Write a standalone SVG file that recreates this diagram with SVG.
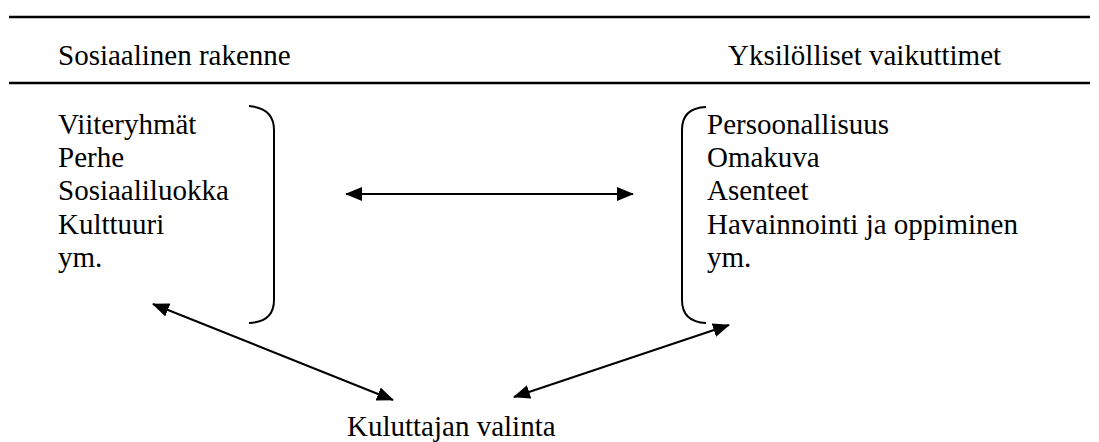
<svg xmlns="http://www.w3.org/2000/svg" width="1099" height="442" viewBox="0 0 1099 442">
<style>
text{font-family:"Liberation Serif","Times New Roman",serif;font-size:29px;fill:#000}
.rule{stroke:#000;stroke-width:2.5}
.br{fill:none;stroke:#000;stroke-width:2}
.ar{fill:none;stroke:#000;stroke-width:2;marker-start:url(#ah);marker-end:url(#ah)}
</style>
<defs>
<marker id="ah" markerUnits="userSpaceOnUse" markerWidth="17" markerHeight="15" refX="16" refY="7" orient="auto-start-reverse">
<path d="M0,0 L17,7 L0,14 z" fill="#000"/>
</marker>
</defs>
<rect width="1099" height="442" fill="#fff"/>
<g id="header">
<line class="rule" x1="9" y1="17" x2="1090" y2="17"/>
<line class="rule" x1="9" y1="83" x2="1090" y2="83"/>
<text x="58" y="65">Sosiaalinen rakenne</text>
<text x="728" y="65">Yksilölliset vaikuttimet</text>
</g>
<g id="sosiaalinen">
<text x="58" y="134">Viiteryhmät</text>
<text x="58" y="167">Perhe</text>
<text x="58" y="200">Sosiaaliluokka</text>
<text x="58" y="234">Kulttuuri</text>
<text x="58" y="267">ym.</text>
<path class="br" d="M249,106 Q274,108 274,130 L274,300 Q274,322 249,323"/>
</g>
<g id="yksilolliset">
<text x="707" y="134">Persoonallisuus</text>
<text x="707" y="167">Omakuva</text>
<text x="707" y="200">Asenteet</text>
<text x="707" y="234">Havainnointi ja oppiminen</text>
<text x="707" y="267">ym.</text>
<path class="br" d="M706,107 Q682,108 682,130 L682,300 Q682,322 706,323"/>
</g>
<g id="valinta">
<text x="347" y="436">Kuluttajan valinta</text>
</g>
<g id="connectors">
<line class="ar" x1="346" y1="194" x2="633" y2="194"/>
<line class="ar" x1="153" y1="304" x2="393" y2="400"/>
<line class="ar" x1="514" y1="397" x2="729" y2="325"/>
</g>
</svg>
